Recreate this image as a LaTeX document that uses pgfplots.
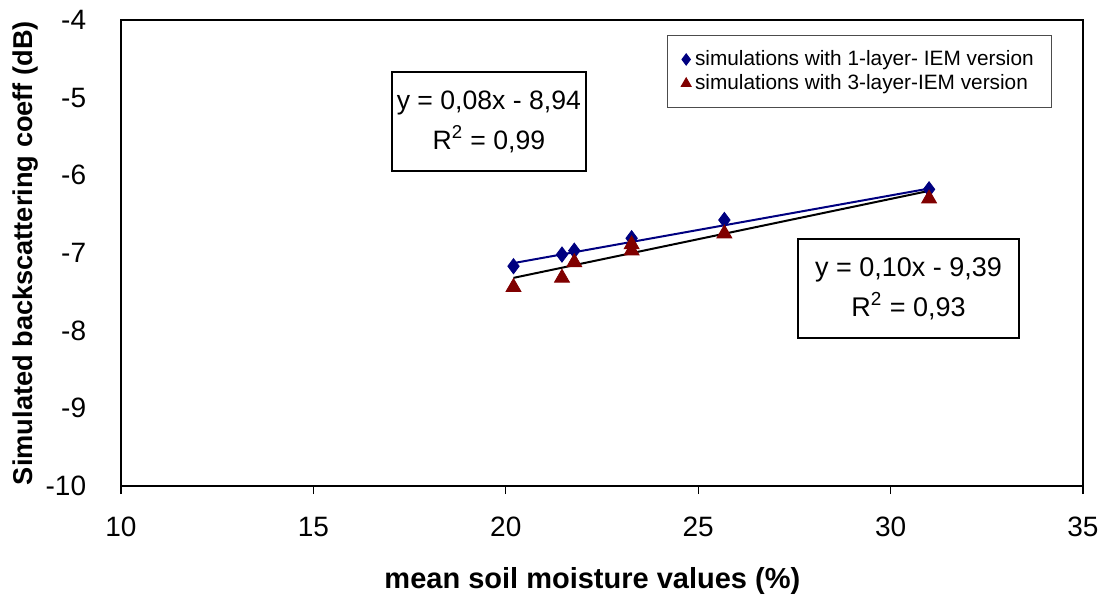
\documentclass[border=0pt]{standalone}
\usepackage{fontspec}
\setmainfont{Liberation Sans}
\usepackage{pgfplots}
\pgfplotsset{compat=1.18}

\definecolor{navyblue}{rgb}{0,0,0.5}
\definecolor{darkred}{rgb}{0.5,0,0}

\begin{document}
\begin{tikzpicture}
  % page = 1104 x 595 px at 0.5pt per px
  \useasboundingbox (-60.5pt,-54.5pt) rectangle (491.5pt,243pt);
  \begin{axis}[
    at={(0pt,0pt)}, anchor=south west,
    scale only axis,
    width=481pt, height=233pt,
    xmin=10, xmax=35,
    ymin=-10, ymax=-4,
    xtick={10,15,...,35},
    ytick={-10,-9,...,-4},
    xtick pos=bottom, ytick pos=left,
    tick align=outside,
    major tick length=4pt,
    ytick style={draw=none},
    xtick style={line width=0.6pt, black},
    axis line style={line width=1.1pt},
    /pgf/number format/assume math mode=true,
    tick label style={font=\fontsize{14}{16}\selectfont},
    xticklabel style={inner sep=0pt, anchor=north, yshift=-11.5pt},
    yticklabel style={inner sep=0pt, anchor=east, xshift=-13.25pt},
    xlabel={mean soil moisture values (\%)},
    ylabel={Simulated backscattering coeff (dB)},
    xlabel style={font=\bfseries\fontsize{14.5}{16}\selectfont,
      at={(axis description cs:0.49,-0.22)}, anchor=base},
    ylabel style={font=\bfseries\fontsize{13.6}{16}\selectfont,
      at={(axis description cs:-0.0925,0.5)}, anchor=base},
    clip=false,
    legend style={
      at={(rel axis cs:0.968,0.968)}, anchor=north east,
      draw=black!70, line width=0.5pt,
      font=\fontsize{10.4}{12.5}\selectfont,
      inner xsep=7pt, inner ysep=5.5pt,
      row sep=-1pt,
      cells={anchor=west},
    },
    legend image code/.code={%
      \draw[#1, mark size=2.8pt, only marks] plot coordinates {(0.1cm,0cm)};},
  ]

    % trend lines
    \addplot[navyblue, line width=1pt, forget plot]
      coordinates {(20.2,-7.13) (31.0,-6.17)};
    \addplot[black, line width=1pt, forget plot]
      coordinates {(20.2,-7.32) (31.0,-6.20)};

    \addplot[only marks, mark=diamond*, mark size=3.8pt,
      color=navyblue]
      coordinates {
        (20.2,-7.17) (21.46,-7.02) (21.78,-6.97)
        (23.27,-6.81) (25.68,-6.575) (31.0,-6.18)
      };
    \addlegendentry{simulations with 1-layer- IEM version}

    \addplot[only marks, mark=triangle*, mark size=4.3pt,
      color=darkred]
      coordinates {
        (20.2,-7.44) (21.46,-7.32) (21.78,-7.12)
        (23.27,-6.89) (23.27,-6.97) (25.68,-6.75) (31.0,-6.30)
      };
    \addlegendentry{simulations with 3-layer-IEM version}

    % equation boxes
    \node[draw, line width=1pt, fill=white, inner sep=0pt,
      minimum width=97pt, minimum height=49.5pt, align=center,
      font=\fontsize{13.3}{20}\selectfont]
      at (axis cs:19.56,-5.307)
      {y = 0,08x - 8,94\\R\textsuperscript{2} = 0,99};
    \node[draw, line width=1pt, fill=white, inner sep=0pt,
      minimum width=110.5pt, minimum height=49.5pt, align=center,
      font=\fontsize{13.5}{20}\selectfont]
      at (axis cs:30.465,-7.457)
      {y = 0,10x - 9,39\\R\textsuperscript{2} = 0,93};
  \end{axis}
\end{tikzpicture}
\end{document}
